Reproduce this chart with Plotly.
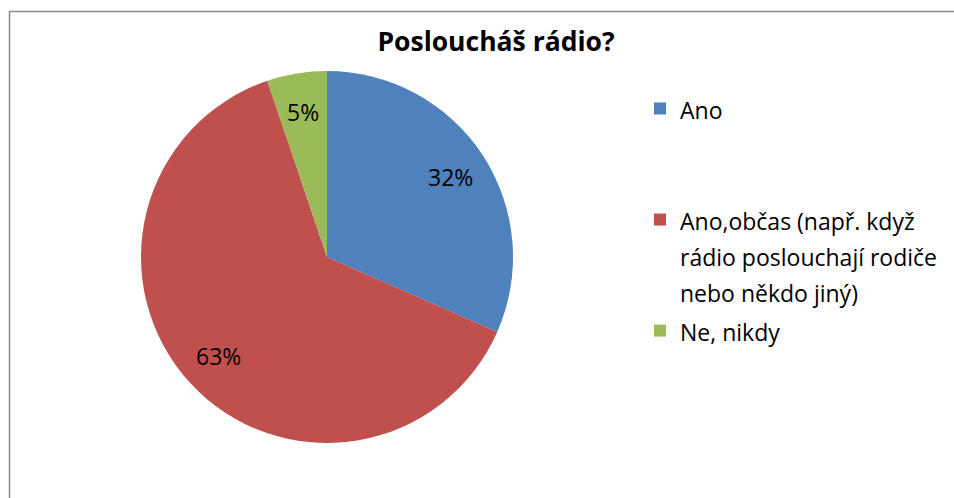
import math
import plotly.graph_objects as go

title = "Posloucháš rádio?"
categories = ["Ano", "Ano,občas (např. když rádio poslouchají rodiče nebo někdo jiný)", "Ne, nikdy"]
legend_names = [
    "Ano<br> <br> ",
    "Ano,občas (např. když<br>rádio poslouchají rodiče<br>nebo někdo jiný)",
    "Ne, nikdy",
]
values = [31.6, 63.2, 5.2]
colors = ["#4F81BD", "#C0504D", "#9BBB59"]

FONT = "Open Sans"
W, H = 954, 498

# pie placement (pixels)
CX, CY, R = 327, 257, 186
dom_x = [(CX - R) / W, (CX + R) / W]
dom_y = [(H - CY - R) / H, (H - CY + R) / H]

fig = go.Figure(
    go.Pie(
        labels=[f"<span style='font-size:23px'>{n}</span>" for n in legend_names],
        values=values,
        marker=dict(colors=colors, line=dict(width=0)),
        sort=False,
        direction="clockwise",
        rotation=0,
        textinfo="none",
        hoverinfo="skip",
        domain=dict(x=dom_x, y=dom_y),
    )
)

# percentage labels placed along each slice's mid-angle
total = sum(values)
annotations = []
cum = 0.0
for v in values:
    mid = (cum + v / 2) / total * 2 * math.pi
    cum += v
    rf = 0.79
    px = CX + rf * R * math.sin(mid)
    py = CY - rf * R * math.cos(mid)
    annotations.append(
        dict(
            x=px / W,
            y=1 - py / H,
            xref="paper",
            yref="paper",
            text=f"{round(v / total * 100)}%",
            showarrow=False,
            xanchor="center",
            yanchor="middle",
            font=dict(family=FONT, size=23, color="#000000"),
        )
    )

fig.update_layout(
    width=W,
    height=H,
    margin=dict(l=0, r=0, t=0, b=0),
    paper_bgcolor="white",
    plot_bgcolor="white",
    title=dict(
        text=f"<b>{title}</b>",
        x=496 / W,
        xanchor="center",
        y=1 - 42 / H,
        yanchor="middle",
        font=dict(family=FONT, size=26.5, color="#000000"),
    ),
    legend=dict(
        x=640 / W,
        xanchor="left",
        y=1 - 84 / H,
        yanchor="top",
        valign="top",
        font=dict(family=FONT, size=27.7, color="#000000"),
        bgcolor="rgba(0,0,0,0)",
    ),
    annotations=annotations,
    shapes=[
        dict(
            type="rect",
            xref="paper",
            yref="paper",
            x0=9.5 / W,
            x1=1.05,
            y0=-0.05,
            y1=1 - 11.5 / H,
            line=dict(color="#8C8C8C", width=1.5),
            fillcolor="rgba(0,0,0,0)",
            layer="below",
        )
    ],
)

fig.write_html("out.html")
